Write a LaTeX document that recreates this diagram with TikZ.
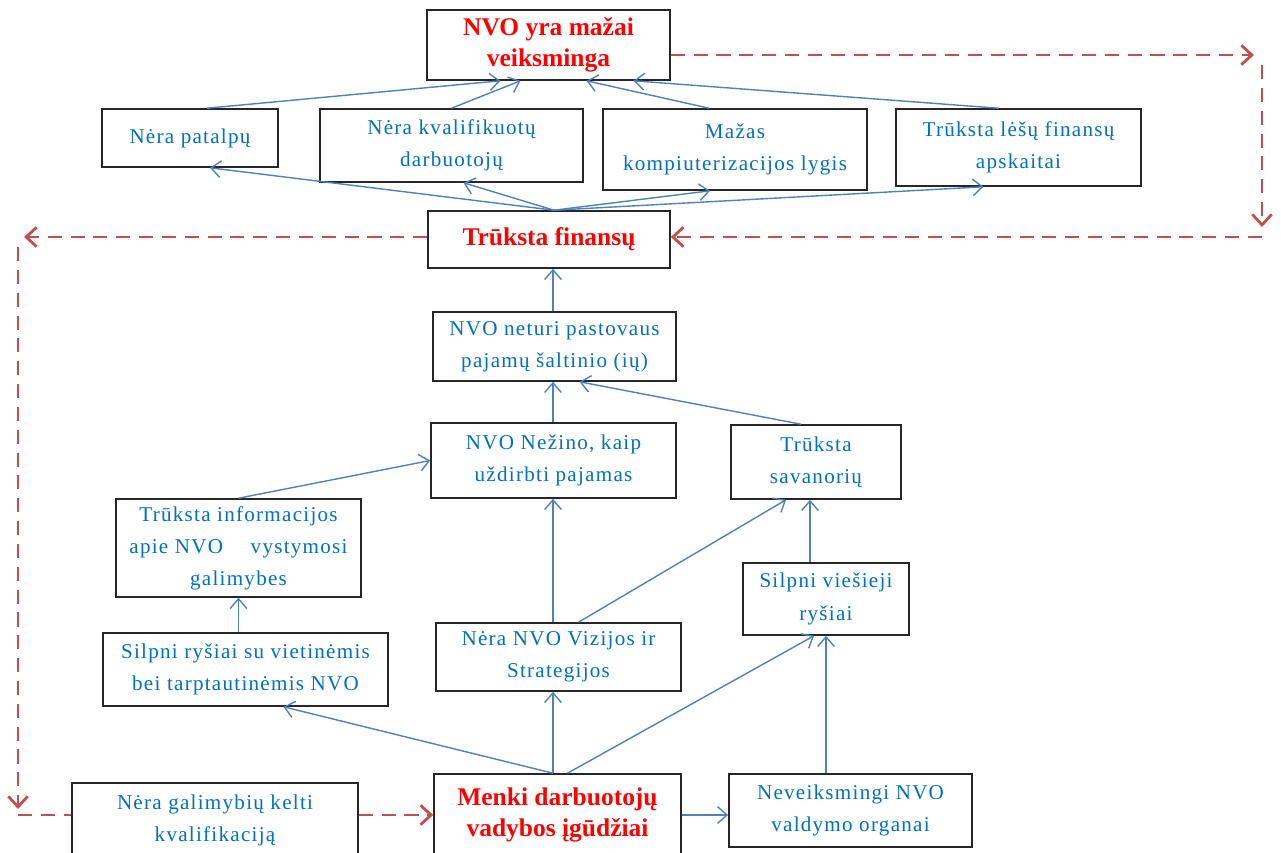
\documentclass[tikz,border=0pt]{standalone}
\usepackage{fontspec}
\setmainfont{Liberation Serif}
\newfontfamily\spacedfont{Liberation Serif}[LetterSpace=6]
\usetikzlibrary{arrows.meta,calc}
\definecolor{txtblue}{RGB}{0,112,192}
\definecolor{lineblue}{RGB}{79,129,189}
\definecolor{dashred}{RGB}{192,80,77}
\begin{document}
\begin{tikzpicture}[x=0.02cm,y=-0.02cm,
  cell/.style 2 args={draw=black!85,line width=0.9pt,fill=white,align=center,inner sep=0pt,
    text=txtblue,font=\spacedfont\fontsize{12}{18.3}\selectfont,
    minimum width=#1*0.02cm,minimum height=#2*0.02cm},
  key/.style 2 args={cell={#1}{#2},text=red,font=\bfseries\fontsize{14.5}{17.6}\selectfont},
  cause/.style={draw=lineblue,line width=0.8pt,-{Straight Barb[length=5.5pt,width=9.5pt]}},
  feedback/.style={draw=dashred,line width=1.6pt,dash pattern=on 8pt off 5pt,
    -{Straight Barb[length=6pt,width=11pt]}}]
  \useasboundingbox (0,0) rectangle (1281,852);

  % problem boxes
  \node[key={243}{70}] (top) at (548.5,45) {NVO yra mažai\\veiksminga};
  \node[cell={176}{58}] (patalpu) at (190,138) {Nėra patalpų};
  \node[cell={263}{73}] (kvalif) at (451.5,145.5) {Nėra kvalifikuotų\\darbuotojų};
  \node[cell={264}{81}] (mazas) at (735,149.5) {Mažas\\kompiuterizacijos lygis};
  \node[cell={245}{77}] (lesu) at (1018.5,147.5) {Trūksta lėšų finansų\\apskaitai};
  \node[key={242}{57}] (finansu) at (549,239.5) {Trūksta finansų};
  \node[cell={243}{69}] (neturi) at (554.5,346.5) {NVO neturi pastovaus\\pajamų šaltinio (ių)};
  \node[cell={245}{75}] (nezino) at (553.5,460.5) {NVO Nežino, kaip\\uždirbti pajamas};
  \node[cell={170}{74}] (savanoriu) at (816,462) {Trūksta\\savanorių};
  \node[cell={245}{98}] (informacijos) at (238.5,548) {Trūksta informacijos\\apie NVO \quad vystymosi\\galimybes};
  \node[cell={285}{73}] (rysiai) at (245.5,669.5) {Silpni ryšiai su vietinėmis\\bei tarptautinėmis NVO};
  \node[cell={245}{68}] (vizijos) at (558.5,657) {Nėra NVO Vizijos ir\\Strategijos};
  \node[cell={166}{72}] (viesieji) at (826,599) {Silpni viešieji\\ryšiai};
  \node[key={247}{82}] (menki) at (557.5,815) {Menki darbuotojų\\vadybos įgūdžiai};
  \node[cell={243}{73}] (neveiksmingi) at (850.5,810.5) {Neveiksmingi NVO\\valdymo organai};
  \node[cell={286}{74}] (galimybiu) at (215,820) {Nėra galimybių kelti\\kvalifikaciją};

  \draw[cause] ($(patalpu.north)+(17,0)$) -- ($(top.south)+(-48,0)$);
  \draw[cause] (kvalif.north) -- ($(top.south)+(-28,0)$);
  \draw[cause] ($(mazas.north)+(-26,0)$) -- ($(top.south)+(38,0)$);
  \draw[cause] ($(lesu.north)+(-20,0)$) -- ($(top.south)+(85,0)$);
  \foreach \tg/\dx in {patalpu/20,kvalif/12,mazas/-25,lesu/-35}
    \draw[cause] ($(finansu.north)+(5,0)$) -- ($(\tg.south)+(\dx,0)$);

  % the middle column runs straight up
  \coordinate (spine) at (553,0);
  \draw[cause] (spine |- neturi.north) -- (spine |- finansu.south);
  \draw[cause] (spine |- nezino.north) -- (spine |- neturi.south);
  \draw[cause] (spine |- vizijos.north) -- (spine |- nezino.south);
  \draw[cause] (spine |- menki.north) -- (spine |- vizijos.south);

  \draw[cause] ($(savanoriu.north)+(-15,0)$) -- ($(neturi.south)+(25,0)$);
  \draw[cause] (informacijos.north) -- (nezino.west);
  \draw[cause] ($(vizijos.north)+(20,0)$) -- ($(savanoriu.south)+(-30,0)$);
  \draw[cause] ($(viesieji.north)+(-16,0)$) -- ($(savanoriu.south)+(-6,0)$);
  \draw[cause] (informacijos.south |- rysiai.north) -- (informacijos.south);
  \draw[cause] (spine |- menki.north) -- ($(rysiai.south)+(38,0)$);
  \draw[cause] ($(menki.north)+(10,0)$) -- ($(viesieji.south)+(-12,0)$);
  \draw[cause] (viesieji.south |- neveiksmingi.north) -- (viesieji.south);
  \draw[cause] (menki.east) -- (neveiksmingi.west |- menki.east);

  % feedback loop
  \coordinate (tr) at (1262,55);
  \coordinate (br) at (1262,237);
  \coordinate (tl) at (18,237);
  \coordinate (bl) at (18,815);
  \draw[feedback] (top.east |- tr) -- ($(tr)+(-8,0)$);
  \draw[feedback] ($(tr)+(0,10)$) -- ($(br)+(0,-10)$);
  \draw[feedback] (br) -- (br -| finansu.east);
  \draw[feedback] (finansu.west |- tl) -- ($(tl)+(6,0)$);
  \draw[feedback] ($(tl)+(0,10)$) -- ($(bl)+(0,-6)$);
  \draw[feedback,-] (bl) -- (bl -| galimybiu.west);
  \draw[feedback] (galimybiu.east |- bl) -- (menki.west |- bl);
\end{tikzpicture}
\end{document}
